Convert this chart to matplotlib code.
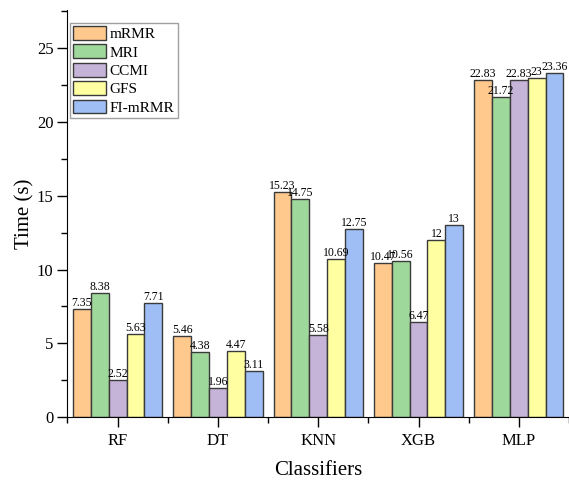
import matplotlib
matplotlib.use("Agg")
import matplotlib.pyplot as plt
import numpy as np
from matplotlib.ticker import MultipleLocator

plt.rcParams['font.family'] = ['Liberation Serif', 'DejaVu Serif']

classifiers = ["RF", "DT", "KNN", "XGB", "MLP"]
methods = ["mRMR", "MRI", "CCMI", "GFS", "FI-mRMR"]
mrmr = [7.35, 5.46, 15.23, 10.47, 22.83]
mri = [8.38, 4.38, 14.75, 10.56, 21.72]
ccmi = [2.52, 1.96, 5.58, 6.47, 22.83]
gfs = [5.63, 4.47, 10.69, 12, 23]
fimrmr = [7.71, 3.11, 12.75, 13, 23.36]
series = [mrmr, mri, ccmi, gfs, fimrmr]
colors = ["#FFC98D", "#9FD89B", "#C6B4D8", "#FFFFA2", "#9EBEF5"]

fig = plt.figure(figsize=(5.69, 4.82), dpi=100)
ax = fig.add_axes([0.1186, 0.1349, 0.8814, 0.8444])

x = np.arange(len(classifiers))
w = 0.178
for i, (name, vals, c) in enumerate(zip(methods, series, colors)):
    pos = x + (i - 2) * w
    bars = ax.bar(pos, vals, width=w, color=c, edgecolor="#3a3a3a", linewidth=1.0, label=name)
    ax.bar_label(bars, labels=[f"{v:g}" for v in vals], padding=0, fontsize=8.5)

ax.set_xlim(-0.5, 4.47)
ax.set_ylim(0, 27.6)
ax.set_xticks(x)
ax.set_xticklabels(classifiers)
ax.set_xticks(np.arange(-0.5, 4.6, 1.0), minor=True)
ax.yaxis.set_major_locator(MultipleLocator(5))
ax.yaxis.set_minor_locator(MultipleLocator(2.5))
ax.tick_params(axis='both', which='major', direction='out', length=7, width=1, labelsize=12, pad=3)
ax.tick_params(axis='x', which='major', pad=4.5)
ax.tick_params(axis='both', which='minor', direction='out', length=4, width=1)
ax.spines['top'].set_visible(False)
ax.spines['right'].set_visible(False)
ax.set_xlabel("Classifiers", fontsize=15, labelpad=8.5)
ax.set_ylabel("Time (s)", fontsize=15, labelpad=2)

leg = ax.legend(loc="upper left", bbox_to_anchor=(0.005, 0.968), fontsize=11, frameon=True, fancybox=False,
                edgecolor="#888888", handlelength=2.15, handleheight=1.0, borderpad=0.2,
                labelspacing=0.22, handletextpad=0.25, borderaxespad=0.0)
leg.get_frame().set_linewidth(1.0)

fig.savefig("out.png", dpi=100)
